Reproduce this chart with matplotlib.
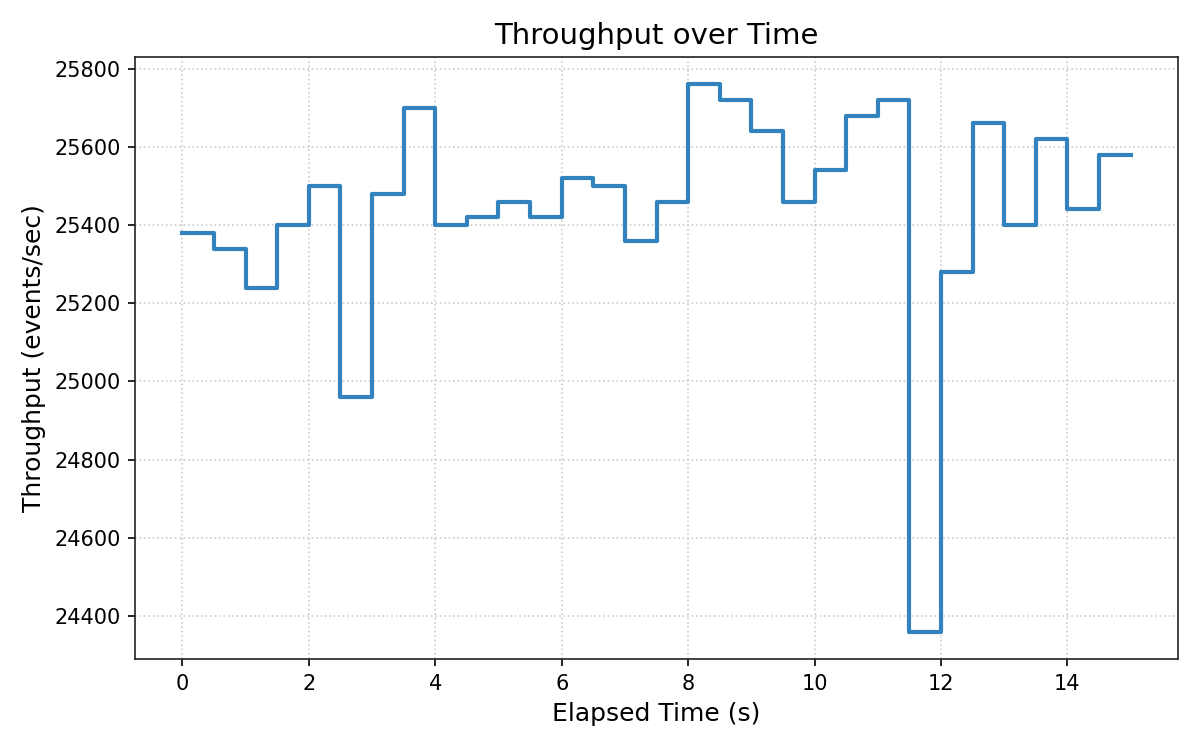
import matplotlib
matplotlib.use("Agg")
import matplotlib.pyplot as plt

elapsed_s = [0.0, 0.5, 1.0, 1.5, 2.0, 2.5, 3.0, 3.5, 4.0, 4.5, 5.0, 5.5, 6.0, 6.5, 7.0, 7.5,
             8.0, 8.5, 9.0, 9.5, 10.0, 10.5, 11.0, 11.5, 12.0, 12.5, 13.0, 13.5, 14.0, 14.5, 15.0]
throughput = [25380, 25340, 25240, 25400, 25500, 24960, 25480, 25700, 25400, 25420, 25460, 25420,
              25520, 25500, 25360, 25460, 25760, 25720, 25640, 25460, 25540, 25680, 25720, 24360,
              25280, 25660, 25400, 25620, 25440, 25580, 25580]

fig, ax = plt.subplots(figsize=(8, 5), dpi=150)
fig.subplots_adjust(left=0.1125, right=0.9817, top=0.924, bottom=0.1213)
ax.step(elapsed_s, throughput, where="post", color="#3182bd", linewidth=2)
ax.set_title("Throughput over Time", fontsize=14)
ax.set_xlabel("Elapsed Time (s)", fontsize=12)
ax.set_ylabel("Throughput (events/sec)", fontsize=12)
ax.grid(True, linestyle=":", color="#cccccc", linewidth=0.8)
ax.set_axisbelow(True)
ax.tick_params(labelsize=10)
ax.set_xticks([0, 2, 4, 6, 8, 10, 12, 14])
ax.set_yticks([24400, 24600, 24800, 25000, 25200, 25400, 25600, 25800])
for s in ax.spines.values():
    s.set_color("#222222")
fig.savefig("out.png", dpi=150)
